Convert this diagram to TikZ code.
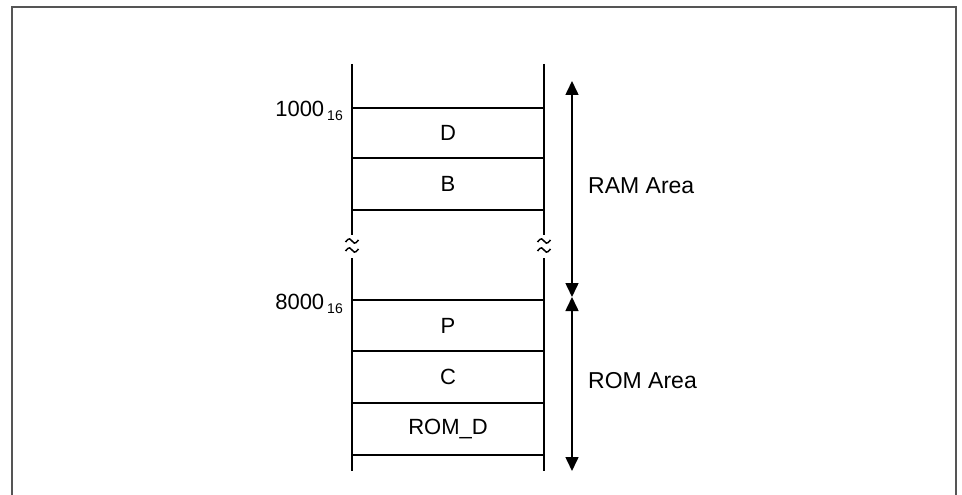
\documentclass[tikz,border=0pt]{standalone}
\usepackage{fontspec}
\setmainfont{Liberation Sans}
\usetikzlibrary{arrows.meta}
\definecolor{framegray}{HTML}{555555}
\newcommand{\subsixteen}{\hspace{3pt}\raisebox{-4.3pt}{\fontsize{14}{16}\selectfont 16}}
\begin{document}
\begin{tikzpicture}[x=1pt,y=-1pt,
  wall/.style={line width=1.6pt,black},
  frame/.style={line width=2pt,framegray},
  lbl/.style={inner sep=0pt,font=\fontsize{22}{26}\selectfont},
  area/.style={inner sep=0pt,anchor=west,font=\fontsize{23}{27}\selectfont},
  addr/.style={inner sep=0pt,anchor=base east,font=\fontsize{22}{26}\selectfont},
  tilde/.style={line width=1.5pt,black},
  span/.style={line width=1.6pt,{Triangle[width=13pt,length=14pt]}-{Triangle[width=13pt,length=14pt]}}
]
\useasboundingbox (0,0) rectangle (962,495);
\draw[frame] (12,496) -- (12,7) -- (956,7) -- (956,496);

% column walls
\coordinate (Ltop) at (352,64);
\coordinate (Lb1) at (352,235);
\coordinate (Lb2) at (352,258);
\coordinate (Lbot) at (352,471);
\coordinate (Rtop) at (544,64);
\coordinate (Rb1) at (544,235);
\coordinate (Rb2) at (544,258);
\coordinate (Rbot) at (544,471);
\draw[wall] (Ltop) -- (Lb1) (Lb2) -- (Lbot);
\draw[wall] (Rtop) -- (Rb1) (Rb2) -- (Rbot);

% break marks (two stacked tildes on each wall)
\foreach \x in {352,544}{
  \foreach \yy in {241,250}{
    \draw[tilde] (\x-6.5,\yy+1) .. controls (\x-3,\yy-4) and (\x-1,\yy-2) .. (\x,\yy)
                 .. controls (\x+1,\yy+2) and (\x+3,\yy+4) .. (\x+6.5,\yy-1);
  }
}

% row separators
\foreach \y/\n in {108/a,158/b,210/c,300/d,351/e,403/f,455/g}{
  \coordinate (hl\n) at (352,\y);
  \coordinate (hr\n) at (544,\y);
  \draw[wall] (hl\n) -- (hr\n);
}

% cell labels
\node[lbl] (D) at (448,133) {D};
\node[lbl] (B) at (448,184) {B};
\node[lbl] (P) at (448,325.5) {P};
\node[lbl] (C) at (448,377) {C};
\node[lbl] (ROMD) at (448,429) {ROM\_D};

% addresses
\node[addr] (a1000) at (343,116.5) {1000\subsixteen};
\node[addr] (a8000) at (343,309) {8000\subsixteen};

% area arrows
\coordinate (ramtop) at (572,81);
\coordinate (mid) at (572,297);
\coordinate (rombot) at (572,471);
\draw[span] (ramtop) -- (mid);
\draw[span] (mid) -- (rombot);

\node[area] (ram) at (588,186) {RAM Area};
\node[area] (rom) at (588,380.5) {ROM Area};
\end{tikzpicture}
\end{document}
